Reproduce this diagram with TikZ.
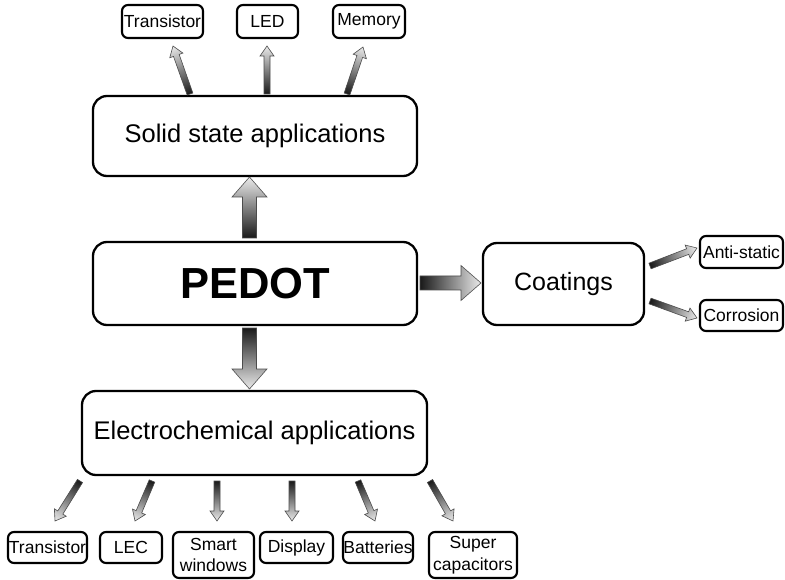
\documentclass[tikz,border=0pt]{standalone}
\usepackage{fontspec}
\setmainfont{Liberation Sans}
\usetikzlibrary{calc}
\tikzset{
  bigbox/.style={draw=black, line width=2.3pt, rounded corners=14pt, inner sep=0pt, font=\fontsize{25.5}{30}\selectfont},
  smallbox/.style={draw=black, line width=2.1pt, rounded corners=6pt, inner sep=0pt, align=center, font=\fontsize{17.5}{21.5}\selectfont},
  arrowshade/.style={left color=black!90, right color=black!8, draw=black!70, line width=0.6pt},
}
\makeatletter
\newcommand\fatarrow[5]{%
  \pgfpointanchor{#1}{center}\pgfgetlastxy{\fa@x}{\fa@y}%
  \pgfpointanchor{#2}{center}\pgfgetlastxy{\fb@x}{\fb@y}%
  \pgfmathsetmacro\fa@ang{atan2(\fb@y-\fa@y,\fb@x-\fa@x)}%
  \pgfmathsetmacro\fa@len{veclen(\fb@x-\fa@x,\fb@y-\fa@y)}%
  \pgfmathsetmacro\fa@hb{\fa@len-#5}%
  \begin{scope}[transform canvas={shift={(\fa@x,\fa@y)},rotate=\fa@ang}]
    \shade[arrowshade] (0pt,-#3pt) -- (\fa@hb pt,-#3pt) -- (\fa@hb pt,-#4pt) -- (\fa@len pt,0pt) -- (\fa@hb pt,#4pt) -- (\fa@hb pt,#3pt) -- (0pt,#3pt) -- cycle;
  \end{scope}}
\makeatother
\begin{document}
\begin{tikzpicture}[x=1pt,y=-1pt]
\useasboundingbox (0,0) rectangle (785,580);
% main boxes
\node[bigbox, minimum width=324pt, minimum height=80pt] (ss) at (255,136) {Solid state applications};
\node[bigbox, minimum width=324pt, minimum height=83pt, font=\fontsize{43.5}{48}\selectfont\bfseries] (pedot) at (255,283.5) {PEDOT};
\node[bigbox, minimum width=161pt, minimum height=82pt, font=\fontsize{25}{30}\selectfont] (coat) at (563.5,284) {Coatings};
\node[bigbox, minimum width=345pt, minimum height=84pt] (ec) at (254.5,433) {Electrochemical applications};
% top small boxes
\node[smallbox, minimum width=81pt, minimum height=33pt] (tt) at (162.5,21.5) {Transistor};
\node[smallbox, minimum width=61pt, minimum height=33pt] (tl) at (267.5,21.5) {LED};
\node[smallbox, minimum width=72pt, minimum height=33pt] (tm) at (369,21.5) {Memory};
% right small boxes
\node[smallbox, minimum width=83pt, minimum height=32pt] (ra) at (741.5,252) {Anti-static};
\node[smallbox, minimum width=83pt, minimum height=31pt] (rc) at (741.5,315.5) {Corrosion};
% bottom small boxes
\node[smallbox, minimum width=79pt, minimum height=31pt] (b1) at (47.5,547.5) {Transistor};
\node[smallbox, minimum width=62pt, minimum height=31pt] (b2) at (131,547.5) {LEC};
\node[smallbox, minimum width=81pt, minimum height=46pt] (b3) at (213.5,555) {Smart\\windows};
\node[smallbox, minimum width=73pt, minimum height=31pt] (b4) at (296.5,547.5) {Display};
\node[smallbox, minimum width=70pt, minimum height=31pt] (b5) at (378,547.5) {Batteries};
\node[smallbox, minimum width=88pt, minimum height=46pt] (b6) at (473,555) {Super\\capacitors};
% arrow end points
\coordinate (uA) at (249.5,238); \coordinate (uB) at (249.5,177);
\coordinate (rA) at (420,283);   \coordinate (rB) at (481,283);
\coordinate (dA) at (249.5,328); \coordinate (dB) at (249.5,389);
\coordinate (t1A) at (190,94); \coordinate (t1B) at (173,46);
\coordinate (t2A) at (267,94); \coordinate (t2B) at (267,46);
\coordinate (t3A) at (347,94); \coordinate (t3B) at (363,47);
\coordinate (c1A) at (650,266); \coordinate (c1B) at (697,248);
\coordinate (c2A) at (650,301); \coordinate (c2B) at (697,318);
\coordinate (e1A) at (80,481);  \coordinate (e1B) at (55,521);
\coordinate (e2A) at (152,481); \coordinate (e2B) at (135,521);
\coordinate (e3A) at (217,481); \coordinate (e3B) at (217,521);
\coordinate (e4A) at (292,481); \coordinate (e4B) at (292,521);
\coordinate (e5A) at (358,481); \coordinate (e5B) at (375,521);
\coordinate (e6A) at (430,481); \coordinate (e6B) at (453,521);
% big arrows
\fatarrow{uA}{uB}{7}{17.5}{20}
\fatarrow{rA}{rB}{7}{17.5}{20}
\fatarrow{dA}{dB}{7}{17.5}{20}
% small arrows
\fatarrow{t1A}{t1B}{3}{7}{10}
\fatarrow{t2A}{t2B}{3}{7}{10}
\fatarrow{t3A}{t3B}{3}{7}{10}
\fatarrow{c1A}{c1B}{3}{7}{10}
\fatarrow{c2A}{c2B}{3}{7}{10}
\fatarrow{e1A}{e1B}{3}{7}{10}
\fatarrow{e2A}{e2B}{3}{7}{10}
\fatarrow{e3A}{e3B}{3}{7}{10}
\fatarrow{e4A}{e4B}{3}{7}{10}
\fatarrow{e5A}{e5B}{3}{7}{10}
\fatarrow{e6A}{e6B}{3}{7}{10}
\end{tikzpicture}
\end{document}
